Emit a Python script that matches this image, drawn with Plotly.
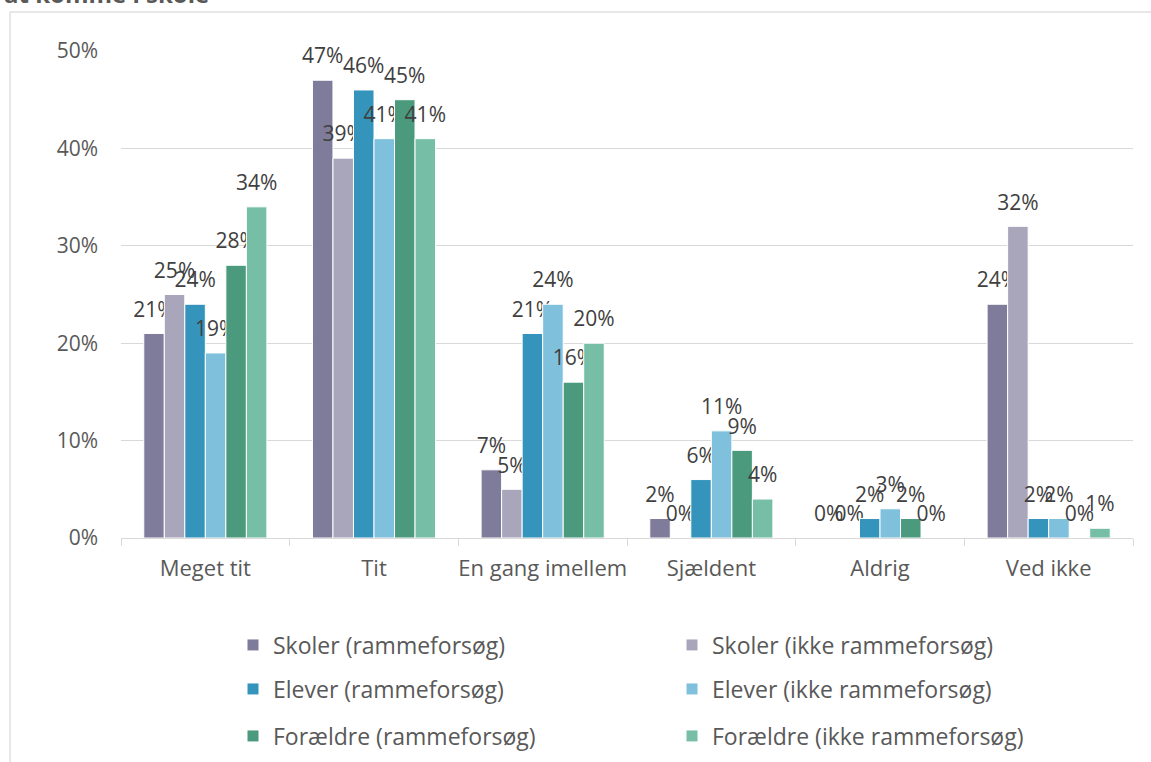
import plotly.graph_objects as go

# categories and series (percent)
categories = ["Meget tit", "Tit", "En gang imellem", "Sjældent", "Aldrig", "Ved ikke"]
series_names = [
    "Skoler (rammeforsøg)", "Skoler (ikke rammeforsøg)",
    "Elever (rammeforsøg)", "Elever (ikke rammeforsøg)",
    "Forældre (rammeforsøg)", "Forældre (ikke rammeforsøg)",
]
skoler_ramme = [21, 47, 7, 2, 0, 24]
skoler_ikke = [25, 39, 5, 0, 0, 32]
elever_ramme = [24, 46, 21, 6, 2, 2]
elever_ikke = [19, 41, 24, 11, 3, 2]
foraeldre_ramme = [28, 45, 16, 9, 2, 0]
foraeldre_ikke = [34, 41, 20, 4, 0, 1]
series_values = [skoler_ramme, skoler_ikke, elever_ramme, elever_ikke, foraeldre_ramme, foraeldre_ikke]
colors = ["#7f7b9b", "#a9a6bc", "#3494bb", "#7fc0dc", "#4b9a7e", "#76bea6"]
legend_ids = ["legend", "legend", "legend2", "legend2", "legend3", "legend3"]

W, H = 1151, 762
L, R, T, B = 121, 18, 51, 224
pw, ph = W - L - R, H - T - B


def px(x):
    return (x - L) / pw


def py(y):
    return (H - B - y) / ph


font = "Open Sans"
label_pad = 0.8  # gap between bar top and its label, in axis units (like Excel's padding)

fig = go.Figure()
for i, (name, vals, col, lg) in enumerate(zip(series_names, series_values, colors, legend_ids)):
    fig.add_trace(go.Bar(
        x=categories, y=vals, name=name, legend=lg, offsetgroup=str(i),
        marker=dict(color=col, line=dict(color="white", width=1)),
    ))
    # invisible spacer bar on top carrying the data label
    fig.add_trace(go.Bar(
        x=categories, y=[label_pad] * len(vals), base=vals, offsetgroup=str(i),
        marker=dict(color="rgba(0,0,0,0)", line=dict(width=0)),
        text=[f"{v}%" for v in vals], textposition="outside", constraintext="none",
        textfont=dict(color="#404040", size=21, family=font),
        cliponaxis=False, showlegend=False, hoverinfo="skip",
    ))

legend_style = dict(
    orientation="h", xanchor="left", yanchor="middle", x=px(233),
    entrywidth=394, entrywidthmode="pixels",
    font=dict(size=23, color="#595959", family=font),
    bgcolor="rgba(0,0,0,0)",
)

fig.update_layout(
    width=W, height=H,
    margin=dict(l=L, r=R, t=T, b=B, autoexpand=False),
    paper_bgcolor="white", plot_bgcolor="white",
    barmode="group", bargap=0.27, bargroupgap=0,
    font=dict(family=font, color="#595959", size=20),
    legend=dict(legend_style, y=py(645)),
    legend2=dict(legend_style, y=py(689)),
    legend3=dict(legend_style, y=py(736)),
    xaxis=dict(
        automargin=False, tickangle=0,
        showline=True, linecolor="#d9d9d9", linewidth=1,
        ticks="outside", tickson="boundaries", ticklen=7, tickcolor="#d9d9d9",
        ticklabelstandoff=11,
        tickfont=dict(size=22, color="#595959"),
    ),
    yaxis=dict(
        automargin=False,
        range=[0, 50], dtick=10, ticksuffix="%",
        showgrid=True, gridcolor="#d9d9d9", gridwidth=1,
        zeroline=False, showline=False, ticklabelstandoff=22,
        tickfont=dict(size=21, color="#595959"),
    ),
    shapes=[dict(
        type="rect", xref="paper", yref="paper",
        x0=px(10), x1=px(1165), y0=py(790), y1=py(12),
        line=dict(color="#d0d0d0", width=1), fillcolor="rgba(0,0,0,0)",
        layer="below",
    )],
    annotations=[dict(
        text="<b>at komme i skole</b>", xref="paper", yref="paper",
        x=px(2), y=py(12), xanchor="left", yanchor="bottom",
        showarrow=False, font=dict(size=24, color="#595959", family=font),
    )],
)

fig.write_html("out.html", config={"displayModeBar": False},
               post_script="document.body.style.margin='0';")
